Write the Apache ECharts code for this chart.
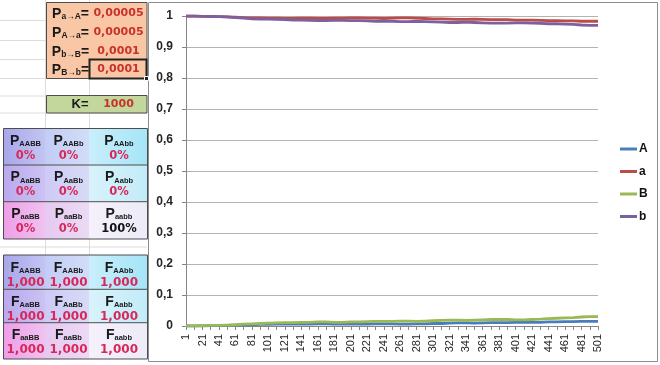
<!DOCTYPE html>
<html><head><meta charset="utf-8">
<script src="https://cdn.jsdelivr.net/npm/echarts@6/dist/echarts.min.js"></script>
<style>html,body{margin:0;padding:0;background:#fff}#c{width:660px;height:365px}</style>
</head><body><div id="c"></div>
<script>
// ---- data ----
const steps = [1,11,21,31,41,51,61,71,81,91,101,111,121,131,141,151,161,171,181,191,201,211,221,231,241,251,261,271,281,291,301,311,321,331,341,351,361,371,381,391,401,411,421,431,441,451,461,471,481,491,501];
const valA = [0,0,0,0.001,0.001,0.002,0.003,0.004,0.004,0.005, 0.005,0.006,0.006,0.007,0.006,0.006,0.007,0.007,0.006,0.006, 0.006,0.006,0.006,0.007,0.007,0.007,0.006,0.006,0.007,0.007, 0.008,0.008,0.009,0.010,0.010,0.009,0.010,0.011,0.011,0.011, 0.012,0.012,0.012,0.012,0.013,0.013,0.014,0.014,0.015,0.015, 0.015];
const vala = [1,1,0.999,0.999,0.998,0.997,0.996,0.995,0.994,0.994, 0.993,0.993,0.992,0.992,0.993,0.993,0.992,0.992,0.993,0.993, 0.994,0.994,0.993,0.993,0.992,0.993,0.994,0.994,0.993,0.992, 0.991,0.991,0.990,0.989,0.989,0.990,0.989,0.988,0.988,0.988, 0.987,0.987,0.987,0.986,0.985,0.985,0.984,0.984,0.983,0.983, 0.983];
const valB = [0,0,0.001,0.002,0.002,0.003,0.004,0.006,0.007,0.008, 0.009,0.010,0.011,0.011,0.012,0.012,0.013,0.013,0.012,0.012, 0.013,0.013,0.014,0.015,0.015,0.015,0.016,0.016,0.015,0.016, 0.017,0.018,0.019,0.019,0.018,0.019,0.020,0.021,0.021,0.021, 0.020,0.020,0.021,0.022,0.024,0.025,0.026,0.027,0.029,0.030, 0.030];
const valb = [1,1,0.999,0.998,0.998,0.997,0.995,0.993,0.991,0.990, 0.990,0.989,0.988,0.987,0.987,0.986,0.985,0.985,0.986,0.986, 0.985,0.985,0.984,0.983,0.983,0.983,0.982,0.982,0.983,0.982, 0.981,0.980,0.979,0.979,0.980,0.979,0.978,0.977,0.977,0.977, 0.978,0.978,0.977,0.976,0.975,0.975,0.974,0.973,0.971,0.970, 0.970];
const seriesNames = ['A','a','B','b'];
const yTicks = [0,0.1,0.2,0.3,0.4,0.5,0.6,0.7,0.8,0.9,1];

const paramSubs = ['a\u2192A','A\u2192a','b\u2192B','B\u2192b'];
const paramValues = ['0,00005','0,00005','0,0001','0,0001'];
const kLabel = 'K=';
const kValue = '1000';
const genotypes = [['AABB','AABb','AAbb'],['AaBB','AaBb','Aabb'],['aaBB','aaBb','aabb']];
const pValues = [['0%','0%','0%'],['0%','0%','0%'],['0%','0%','100%']];
const fValues = [['1,000','1,000','1,000'],['1,000','1,000','1,000'],['1,000','1,000','1,000']];

// ---- build ----
const categories = [];
for (let i = 1; i <= 501; i++) categories.push(String(i));
function pairs(vals){ return steps.map((s,i)=>[s-1, vals[i]]); }

const FONT = "'Liberation Sans', Arial, sans-serif";
const DV = "'DejaVu Sans', Verdana, sans-serif";
const DARK = '#1a1a1a';
const BORDER = '#4d4d4d';
const g = [];
function rect(x,y,w,h,fill,stroke,lw,z){ g.push({type:'rect', silent:true, z:z||1, shape:{x:x,y:y,width:w,height:h}, style:{fill:fill||'none', stroke:stroke||null, lineWidth:lw||1}}); }
function ln(x1,y1,x2,y2,c,lw,z){ g.push({type:'line', silent:true, z:z||1, shape:{x1:x1,y1:y1,x2:x2,y2:y2}, style:{stroke:c, lineWidth:lw||1}}); }
function grad(c1,c2){ return {type:'linear',x:0,y:0,x2:1,y2:0,colorStops:[{offset:0,color:c1},{offset:1,color:c2}]}; }
function subText(x,y,main,sub,tail,mainSize,subSize){
  g.push({type:'text', silent:true, z:5, x:x, y:y, style:{
    text:'{p|'+main+'}{s|'+sub+'}'+(tail?'{p|'+tail+'}':''),
    align:'center', verticalAlign:'middle',
    rich:{
      p:{fontSize:mainSize, fontWeight:'bold', fontFamily:FONT, fill:DARK, lineHeight:16, verticalAlign:'bottom'},
      s:{fontSize:subSize, fontWeight:'bold', fontFamily:FONT, fill:DARK, lineHeight:10, verticalAlign:'bottom'}
    }}});
}
function plainText(x,y,t,color,size,family,align){
  g.push({type:'text', silent:true, z:5, x:x, y:y, style:{text:t, fill:color, fontSize:size, fontWeight:'bold', fontFamily:family, align:align||'center', verticalAlign:'middle'}});
}

// sheet gridlines
const GC = '#dcdcdc';
[20.5,40.5,59.5,78.5,96,113].forEach(y=>ln(0,y,147,y,GC,1,0));
ln(45.5,0,45.5,128,GC,1,0); ln(89.5,0,89.5,128,GC,1,0);
ln(45.5,239,45.5,255,GC,1,0); ln(89.5,239,89.5,255,GC,1,0);
ln(0,247,147,247,GC,1,0);

// orange parameter box
rect(46.5,2.5,100.5,76,'#f9c7a5',BORDER,1,2);
const prY = [13.3,31.7,50.7,69.3];
paramSubs.forEach((s,i)=>{
  subText(70.5, prY[i], 'P', s, '=', 14, 8.5);
  plainText(118.5, prY[i], paramValues[i], '#c8322a', 11, DV);
});
rect(89.5,59.5,57,19,'none','#222',2,3);
rect(144.5,76.5,4,4,'#222','#fff',1,4);

// K box
rect(46.5,95.5,100.5,17.5,'#c3d69b',BORDER,1,2);
plainText(80, 104, kLabel, DARK, 13, FONT);
plainText(118.5, 104, kValue, '#c8322a', 11, DV);

// P and F tables
const colX = [3.5,45,89,147.5];
const colC = [25.5,68.5,119];
const cellGrad = [
  [['#a9a6ea','#c2c5f3'],['#c3ccf5','#d1ddf8'],['#c9eefb','#a4e5f7']],
  [['#baa8ee','#cbc2f3'],['#cdcaf5','#d8daf7'],['#d8f2fb','#c2ecf8']],
  [['#ee9ee8','#efc2ef'],['#e6c9f1','#ecdaf5'],['#f5f1fb','#ecebf8']]
];
function table(top, rowTops, bottom, letter, values, labelOff, valueOff){
  for (let r=0;r<3;r++){
    const y0 = rowTops[r], y1 = (r<2? rowTops[r+1] : bottom);
    for (let c=0;c<3;c++){
      rect(colX[c], y0, colX[c+1]-colX[c], y1-y0, grad(cellGrad[r][c][0], cellGrad[r][c][1]), null, 0, 2);
      subText(colC[c], y0+labelOff, letter, genotypes[r][c], '', 14, 7.5);
      const v = values[r][c];
      plainText(colC[c], y0+valueOff, v, v==='100%'? '#111' : '#d8285a', v.indexOf(',')>=0?12:11.5, DV);
    }
    if (r>0) ln(3.5, y0, 147.5, y0, BORDER, 1, 3);
  }
  rect(3.5, top, 144, bottom-top, 'none', BORDER, 1, 3);
}
table(128.5, [128.5,165,201.7], 239, 'P', pValues, 11.5, 27.5);
table(255, [255,289.3,322.7], 359, 'F', fValues, 11.7, 27.5);

// chart frame
rect(148.5,2.5,509,359,'none','#8c8c8c',1,1);

const colors = ['#4a7ebb','#be4b48','#98b954','#7d60a0'];
const vals = [valA, vala, valB, valb];

const chart = echarts.init(document.getElementById('c'), null, {renderer:'canvas'});
chart.setOption({
  animation:false,
  backgroundColor:'#fff',
  grid:{left:186, right:62, top:16, bottom:39, containLabel:false},
  xAxis:{
    type:'category', data:categories, boundaryGap:false,
    axisLine:{lineStyle:{color:'#868686', width:1}},
    axisTick:{show:true, interval:9, length:4, lineStyle:{color:'#868686'}},
    axisLabel:{interval:19, rotate:90, margin:8, fontSize:11, fontFamily:FONT, color:'#262626'},
    splitLine:{show:false}
  },
  yAxis:{
    type:'value', min:0, max:1, interval:0.1,
    axisLine:{show:true, lineStyle:{color:'#868686'}},
    axisTick:{show:true, length:4, lineStyle:{color:'#868686'}},
    axisLabel:{margin:13, fontSize:12, fontWeight:'bold', fontFamily:FONT, color:'#262626',
      formatter:function(v){ return String(Math.round(v*10)/10).replace('.', ','); }},
    splitLine:{lineStyle:{color:'#b3b3b3', width:1}}
  },
  legend:{
    data:seriesNames.map(n=>({name:n, icon:'rect'})), orient:'vertical', left:615, top:138, itemWidth:17, itemHeight:3, itemGap:10.5,
    textStyle:{fontSize:12, fontWeight:'bold', fontFamily:FONT, color:'#111', padding:[0,0,0,-3]}
  },
  series: seriesNames.map((n,i)=>({
    name:n, type:'line', data:pairs(vals[i]), symbol:'none', showSymbol:false,
    lineStyle:{width:2.8, color:colors[i]}, itemStyle:{color:colors[i]}
  })),
  graphic: g
});
</script></body></html>
